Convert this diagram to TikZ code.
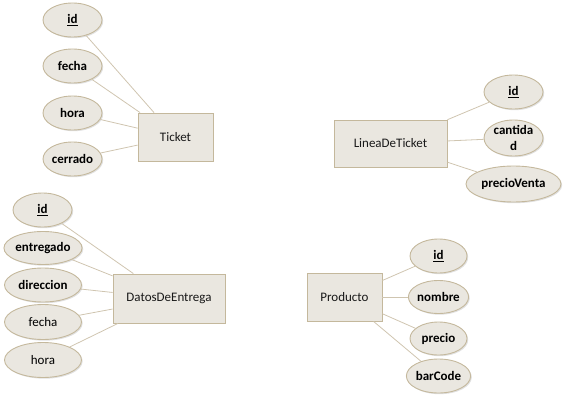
\documentclass[tikz,border=0pt]{standalone}
\usepackage{fontspec}
\setmainfont{Carlito}
\usetikzlibrary{shapes.geometric,shadows}
\definecolor{boxfill}{HTML}{EAE7E0}
\definecolor{boxline}{HTML}{C4B89C}
\definecolor{linkline}{HTML}{CFC5B0}
\tikzset{
  entity/.style={draw=boxline, line width=0.9pt, fill=boxfill, rectangle, inner sep=0pt,
    font=\fontsize{13}{14}\selectfont, text=black!90,
    drop shadow={shadow xshift=1.2pt, shadow yshift=-1.2pt, opacity=0.25, fill=black!60}},
  attr/.style={draw=boxline, line width=0.9pt, fill=boxfill, ellipse, inner sep=0pt,
    minimum width=59pt, minimum height=34pt, align=center,
    font=\fontsize{13}{16}\selectfont\bfseries, text=black,
    drop shadow={shadow xshift=1.2pt, shadow yshift=-1.2pt, opacity=0.2, fill=black!60}},
  link/.style={draw=linkline, line width=0.8pt}
}
\begin{document}
\begin{tikzpicture}[x=1pt,y=-1pt]
\useasboundingbox (0,0) rectangle (567,401);
% Ticket
\node[entity, minimum width=75pt, minimum height=48pt] (ticket) at (175.5,137) {Ticket};
\node[attr] (tid) at (72.5,20) {\underline{id}};
\node[attr] (tfecha) at (72.5,66) {fecha};
\node[attr] (thora) at (72.5,113) {hora};
\node[attr] (tcerrado) at (72.5,159) {cerrado};
% LineaDeTicket
\node[entity, minimum width=113pt, minimum height=47pt] (linea) at (390.5,143.5) {LineaDeTicket};
\node[attr] (lid) at (513.5,92) {\underline{id}};
\node[attr, minimum height=36pt] (lcant) at (513.5,138) {cantida\\d};
\node[attr, minimum width=95pt, minimum height=36pt] (lprecio) at (513.5,184) {precioVenta};
% DatosDeEntrega
\node[entity, minimum width=112pt, minimum height=49pt] (datos) at (169,298.5) {DatosDeEntrega};
\node[attr] (did) at (42.5,210) {\underline{id}};
\node[attr, minimum width=77pt, minimum height=33pt] (dentregado) at (43,248) {entregado};
\node[attr, minimum width=77pt, minimum height=34pt] (ddir) at (43,285) {direccion};
\node[attr, minimum width=77pt, minimum height=35pt] (dfecha) at (43,322) {\mdseries fecha};
\node[attr, minimum width=77pt, minimum height=35pt] (dhora) at (43,360) {\mdseries hora};
% Producto
\node[entity, minimum width=75pt, minimum height=48pt] (prod) at (344.5,297) {Producto};
\node[attr, minimum width=57pt] (pid) at (438.5,256) {\underline{id}};
\node[attr, minimum width=57pt, minimum height=33pt] (pnombre) at (438.5,297) {nombre};
\node[attr, minimum width=57pt, minimum height=33pt] (pprecio) at (438.5,338.5) {precio};
\node[attr, minimum width=57pt] (pbar) at (438.5,376) {barCode};
% links
\draw[link] (tid) -- (ticket);
\draw[link] (tfecha) -- (ticket);
\draw[link] (thora) -- (ticket);
\draw[link] (tcerrado) -- (ticket);
\draw[link] (lid) -- (linea);
\draw[link] (lcant) -- (linea);
\draw[link] (lprecio) -- (linea);
\draw[link] (did) -- (datos);
\draw[link] (dentregado) -- (datos);
\draw[link] (ddir) -- (datos);
\draw[link] (dfecha) -- (datos);
\draw[link] (dhora) -- (datos);
\draw[link] (pid) -- (prod);
\draw[link] (pnombre) -- (prod);
\draw[link] (pprecio) -- (prod);
\draw[link] (pbar) -- (prod);
\end{tikzpicture}
\end{document}
